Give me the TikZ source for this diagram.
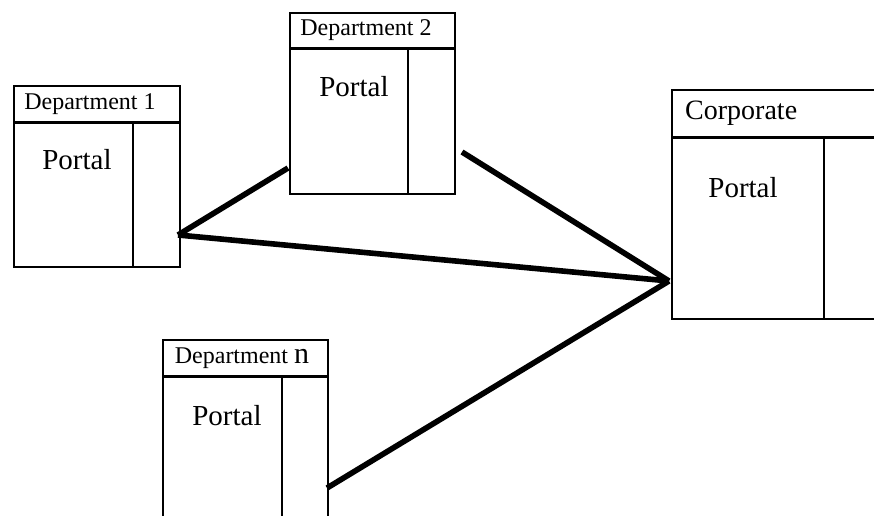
\documentclass[tikz,border=0pt]{standalone}
\usepackage{fontspec}
\setmainfont{Liberation Serif}
\begin{document}
\begin{tikzpicture}[x=1pt,y=-1pt,
  boxframe/.style={draw,line width=1.8pt,inner sep=0pt,anchor=north west},
  sepline/.style={line width=3pt},
  divline/.style={line width=2.2pt},
  headtext/.style={font=\fontsize{24}{24}\selectfont,inner sep=0pt},
  porttext/.style={font=\fontsize{29}{29}\selectfont,inner sep=0pt},
  link/.style={line width=5.6pt}]
\useasboundingbox (0,0) rectangle (874,515);
\clip (0,0) rectangle (874,515);
% Department 1
\node[boxframe,minimum width=166pt,minimum height=181pt] (d1) at (13,85) {};
\draw[sepline] (13,122) -- (179,122);
\draw[divline] (133,122) -- (133,266);
\node[headtext] (d1h) at (90,104) {Department 1};
\node[porttext] (d1p) at (77,160) {Portal};
% Department 2
\node[boxframe,minimum width=165pt,minimum height=181pt] (d2) at (289,12) {};
\draw[sepline] (289,48) -- (454,48);
\draw[divline] (408,48) -- (408,193);
\node[headtext] (d2h) at (366,30) {Department 2};
\node[porttext] (d2p) at (354,87) {Portal};
% Corporate
\node[boxframe,minimum width=240pt,minimum height=229pt] (co) at (671,89) {};
\draw[sepline] (671,137) -- (911,137);
\draw[divline] (824,137) -- (824,318);
\node[font=\fontsize{28}{28}\selectfont,inner sep=0pt,anchor=west] (coh) at (685,113) {Corporate};
\node[porttext] (cop) at (743,188) {Portal};
% Department n
\node[boxframe,minimum width=165pt,minimum height=200pt] (dn) at (162,339) {};
\draw[sepline] (162,376) -- (327,376);
\draw[divline] (282,376) -- (282,539);
\node[headtext] (dnh) at (242,358) {Department {\fontsize{30}{30}\selectfont n}};
\node[porttext] (dnp) at (227,416) {Portal};
% connector end points
\coordinate (a1) at (178,235);
\coordinate (a2) at (288,168);
\coordinate (a3) at (462,152);
\coordinate (a4) at (327,488);
\coordinate (c) at (669,281);
\draw[link] (a1) -- (a2);
\draw[link] (a1) -- (c);
\draw[link] (a3) -- (c);
\draw[link] (a4) -- (c);
\end{tikzpicture}
\end{document}
